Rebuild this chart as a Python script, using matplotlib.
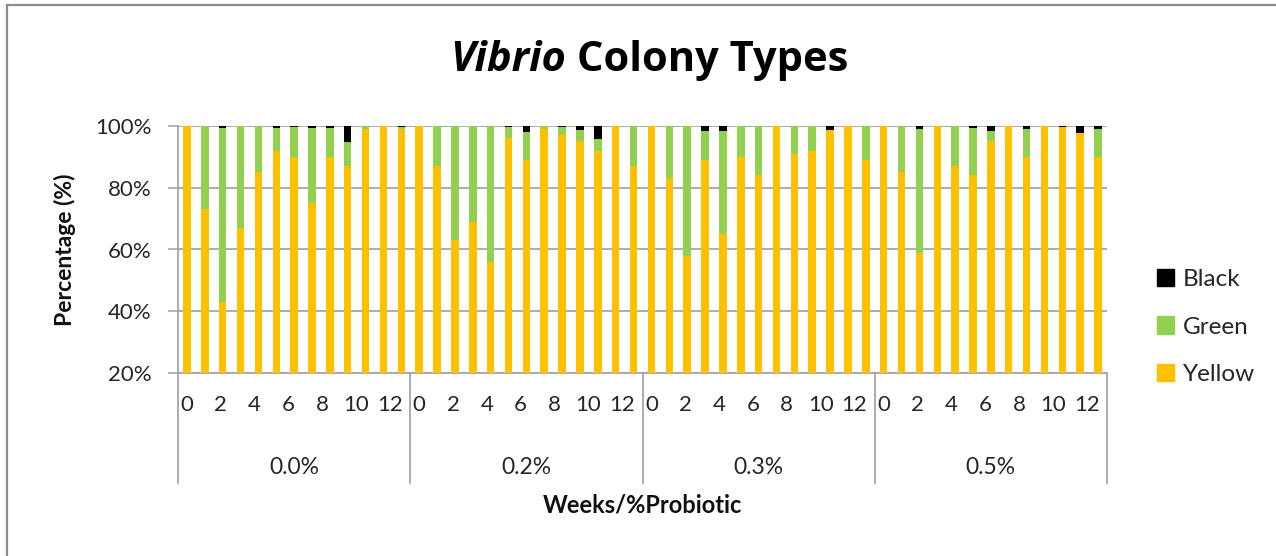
import matplotlib
matplotlib.use("Agg")
import matplotlib.pyplot as plt
from matplotlib.patches import Patch
from matplotlib.lines import Line2D
from matplotlib.transforms import ScaledTranslation
import numpy as np

plt.rcParams['font.family'] = ['Lato', 'DejaVu Sans']

groups = ["0.0%", "0.2%", "0.3%", "0.5%"]
weeks = list(range(13))

yellow_00 = [100, 73, 43, 67, 85, 92, 90, 75, 90, 87, 99, 100, 99]
green_00 = [0, 27, 56.5, 33, 15, 7.5, 9.7, 24.4, 9.5, 7.7, 1, 0, 0.6]
black_00 = [0, 0, 0.5, 0, 0, 0.5, 0.3, 0.6, 0.5, 5.3, 0, 0, 0.4]

yellow_02 = [100, 87, 63, 69, 56, 96, 89, 99, 97, 95, 92, 100, 87]
green_02 = [0, 13, 37, 31, 44, 3.6, 9, 1, 2.7, 3.8, 3.7, 0, 13]
black_02 = [0, 0, 0, 0, 0, 0.4, 2, 0, 0.3, 1.2, 4.3, 0, 0]

yellow_03 = [100, 83, 58, 89, 65, 90, 84, 100, 91, 92, 98.8, 100, 89]
green_03 = [0, 17, 42, 9.5, 33.5, 10, 16, 0, 9, 8, 0, 0, 11]
black_03 = [0, 0, 0, 1.5, 1.5, 0, 0, 0, 0, 0, 1.2, 0, 0]

yellow_05 = [100, 85, 59, 100, 87, 84, 95.2, 100, 90, 100, 99.7, 97.8, 90]
green_05 = [0, 15, 40, 0, 13, 15.4, 3.2, 0, 9, 0, 0, 0, 9]
black_05 = [0, 0, 1, 0, 0, 0.6, 1.6, 0, 1, 0, 0.3, 2.2, 1]

yellow = np.array(yellow_00 + yellow_02 + yellow_03 + yellow_05, dtype=float)
green = np.array(green_00 + green_02 + green_03 + green_05, dtype=float)
black = np.array(black_00 + black_02 + black_03 + black_05, dtype=float)

C_Y = "#FFC000"
C_G = "#92D050"
C_B = "#000000"
GRID = "#A6A6A6"
TXT = "#262626"

W, H = 1276, 556
fig = plt.figure(figsize=(W / 100, H / 100), dpi=100)
ax = fig.add_axes([178 / W, 1 - 373 / H, (1107 - 178) / W, (373 - 126) / H])

n = len(groups) * len(weeks)
x = np.arange(n)
bw = 0.42
ax.bar(x, yellow, bw, color=C_Y, zorder=3)
ax.bar(x, green, bw, bottom=yellow, color=C_G, zorder=3)
ax.bar(x, black, bw, bottom=yellow + green, color=C_B, zorder=3)

ax.set_xlim(-0.5, n - 0.5)
ax.set_ylim(20, 100)
ax.set_yticks([20, 40, 60, 80, 100])
ax.set_yticklabels([f"{v}%" for v in [20, 40, 60, 80, 100]], fontsize=16, color=TXT)
ax.yaxis.grid(True, color=GRID, lw=1.3, zorder=0)
ax.tick_params(axis='y', length=7, width=1.2, color=GRID, pad=12)

xt = []
xl = []
for g in range(len(groups)):
    for k in weeks:
        if k % 2 == 0:
            xt.append(g * len(weeks) + k)
            xl.append(str(k))
ax.set_xticks(xt)
ax.set_xticklabels(xl, fontsize=16, color=TXT)
ax.tick_params(axis='x', length=0, pad=16)
# Excel packs the category labels slightly toward the left of each group
for lab, txt in zip(ax.get_xticklabels(), xl):
    k = int(txt)
    lab.set_transform(lab.get_transform() +
                      ScaledTranslation(-0.95 * k / 100, 0, fig.dpi_scale_trans))

for s in ['top', 'right']:
    ax.spines[s].set_visible(False)
for s in ['left', 'bottom']:
    ax.spines[s].set_color(GRID)
    ax.spines[s].set_linewidth(1.3)

trans = ax.get_xaxis_transform()
for g in range(len(groups) + 1):
    xs = g * len(weeks) - 0.5
    ax.add_line(Line2D([xs, xs], [0, -0.445], transform=trans, color=GRID,
                       lw=1.3, clip_on=False))
for g, name in enumerate(groups):
    ax.text(g * len(weeks) + 6, -0.383, name, transform=trans, ha='center',
            va='center', fontsize=16.5, color=TXT)

fig.text(642 / W, 1 - 505 / H, "Weeks/%Probiotic", ha='center', va='center',
         fontsize=17, fontweight='bold', color="#111111")
fig.text(65 / W, 1 - 250 / H, "Percentage (%)", ha='center', va='center',
         rotation=90, fontsize=16.5, fontweight='bold', color="#111111")

# Title with italic genus name
ty = 1 - 71 / H
tfont = ['Open Sans', 'Lato', 'DejaVu Sans']
t1 = fig.text(0, ty, "Vibrio", fontsize=30, fontweight='bold', style='italic',
              family=tfont, ha='left', va='baseline', color="#000000")
t2 = fig.text(0, ty, "Colony Types", fontsize=30, fontweight='bold',
              family=tfont, ha='left', va='baseline', color="#000000")
fig.canvas.draw()
r = fig.canvas.get_renderer()
w1 = t1.get_window_extent(r).width
w2 = t2.get_window_extent(r).width
gap = 11
total = w1 + gap + w2
x0 = 649 - total / 2
t1.set_x(x0 / W)
t2.set_x((x0 + w1 + gap) / W)

handles = [Patch(color=C_B, label="Black"), Patch(color=C_G, label="Green"),
           Patch(color=C_Y, label="Yellow")]
fig.legend(handles=handles, loc='center left', bbox_to_anchor=(1157 / W, 1 - 327 / H),
           frameon=False, fontsize=17.5, borderpad=0, borderaxespad=0,
           handlelength=0.7, handleheight=0.7, handletextpad=0.35,
           labelspacing=1.1, labelcolor=TXT)

# outer chart border
fig.add_artist(Line2D([7 / W, 7 / W], [0, 1 - 5 / H], transform=fig.transFigure,
                      color="#8C8C8C", lw=1.6))
fig.add_artist(Line2D([7 / W, 1], [1 - 5 / H, 1 - 5 / H], transform=fig.transFigure,
                      color="#8C8C8C", lw=1.6))

fig.savefig("out.png", dpi=100, facecolor="white")
